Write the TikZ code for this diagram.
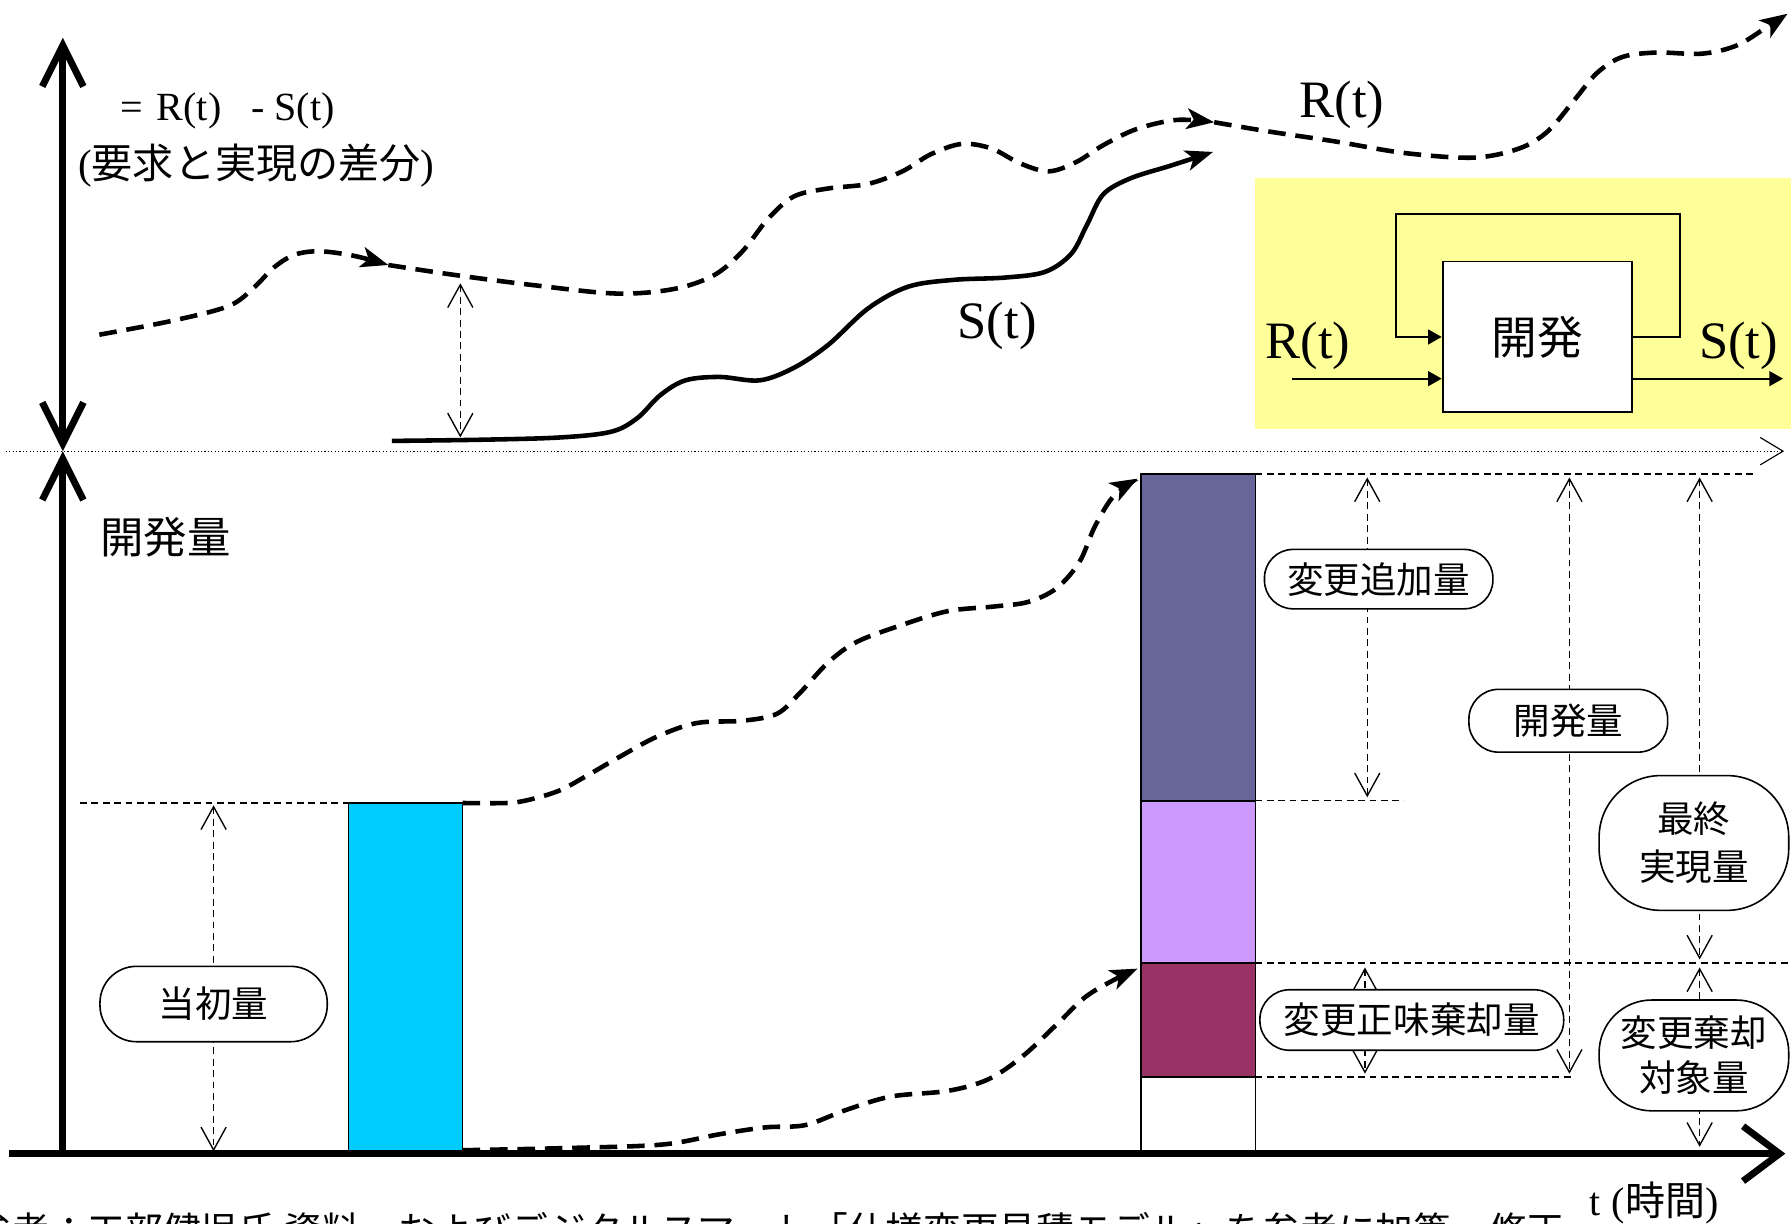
\documentclass[tikz,border=0pt]{standalone}
\usepackage{fontspec}
\setmainfont{Liberation Serif}
\newfontfamily\cjk{Noto Sans CJK JP}
\usetikzlibrary{arrows.meta}
\definecolor{ybg}{HTML}{FFFF99}
\definecolor{cyanbar}{HTML}{00CCFF}
\definecolor{slatebar}{HTML}{666699}
\definecolor{lavbar}{HTML}{CC99FF}
\definecolor{maroonbar}{HTML}{993366}
\newcommand{\setfs}[1]{\fontsize{#1pt}{#1pt}\selectfont}
\tikzset{
  axisline/.style={line width=3pt},
  bigdash/.style={line width=2pt, dash pattern=on 7.7pt off 4.3pt, -{Stealth[length=12pt,width=9pt,inset=3pt]}},
  solidcurve/.style={line width=2pt, -{Stealth[length=12pt,width=9pt,inset=3pt]}},
  thindash/.style={line width=0.6pt, dash pattern=on 3pt off 2pt},
  dimarrow/.style={thindash, {Straight Barb[length=10pt,width=11pt]}-{Straight Barb[length=10pt,width=11pt]}},
  flow/.style={line width=0.9pt, -{Triangle[length=6pt,width=6.5pt]}},
  lbl/.style={draw, line width=0.7pt, fill=white, font={\cjk\setfs{16}}, align=center, inner sep=0pt},
  barbox/.style={draw, line width=0.7pt, anchor=north west, minimum width=50pt, inner sep=0pt, outer sep=0pt},
  serifbig/.style={font={\setfs{23}}, inner sep=0pt},
}
\begin{document}
\begin{tikzpicture}[x=0.5pt,y=-0.5pt]
\useasboundingbox (0,0) rectangle (1568,1071);

% ---------- inset (yellow) ----------
\node[fill=ybg, anchor=north west, minimum width=235pt, minimum height=110pt, inner sep=0pt] (ybox) at (1098,155) {};
\node[draw, line width=0.8pt, fill=white, minimum width=83pt, minimum height=66pt, inner sep=0pt, font={\cjk\setfs{20}}] (dev) at (1346,295) {開発};
\coordinate (rin) at (1131,331.5);
\coordinate (sout) at (1561,331.5);
\coordinate (lpR) at (1471,187);
\coordinate (lpL) at (1222,187);
\draw[flow] (rin) -- (rin -| dev.west);
\draw[flow] (sout -| dev.east) -- (sout);
\draw[flow] (dev.east) -- (dev.east -| lpR) -- (lpR) -- (lpL) -- (lpL |- dev.west) -- (dev.west);
\node[serifbig] (rlabin) at (1145,303) {R(t)};
\node[serifbig] (slabin) at (1522,303) {S(t)};

% ---------- separator dotted line ----------
\coordinate (dotL) at (5,395);
\coordinate (dotR) at (1562,395);
\draw[line width=0.5pt, densely dotted, -{Straight Barb[length=10pt,width=12pt]}] (dotL) -- (dotR);

% ---------- upper texts ----------
\node[anchor=west, inner sep=0pt, font={\setfs{17.5}}] (formula) at (105,97) {=\hspace{0.35em}R(t)\hspace{0.75em}- S(t)};
\node[anchor=west, inner sep=0pt] (diff) at (68,145) {{\setfs{18}(}{\cjk\setfs{18}要求と実現の差分}{\setfs{18})}};
\node[serifbig] (rlab) at (1175,92) {R(t)};
\node[serifbig] (slab) at (873,285) {S(t)};

% ---------- R(t) curve ----------
\coordinate (r0) at (87,293);
\coordinate (r1) at (340,232);
\coordinate (r2) at (1063,107);
\coordinate (r3) at (1565,12);
\draw[bigdash] plot[smooth, tension=0.55] coordinates {(r0) (150,281) (200,268) (222,252) (240,234) (258,223) (280,220) (310,224) (r1)};
\draw[bigdash] plot[smooth, tension=0.55] coordinates {(r1) (400,241) (470,250) (540,257) (590,253) (625,241) (650,220) (672,192) (695,172) (725,165) (760,161) (790,150) (815,135) (842,126) (868,130) (893,143) (918,150) (942,142) (966,127) (995,113) (1030,105) (r2)};
\draw[bigdash] plot[smooth, tension=0.55] coordinates {(r2) (1110,115) (1170,124) (1230,134) (1290,138) (1330,130) (1355,115) (1378,88) (1398,64) (1420,50) (1450,46) (1490,47) (1520,40) (1545,25) (r3)};

% ---------- S(t) curve ----------
\coordinate (s0) at (343,386);
\coordinate (s1) at (1062,133);
\draw[solidcurve] plot[smooth, tension=0.55] coordinates {(s0) (420,385) (490,383) (535,378) (558,366) (578,346) (600,333) (630,330) (665,333) (695,322) (725,302) (760,270) (795,251) (835,245) (880,243) (915,238) (938,222) (952,196) (966,170) (990,156) (1025,145) (s1)};

% gap arrow
\coordinate (gT) at (403,248);
\coordinate (gB) at (403,383);
\draw[dimarrow] (gT) -- (gB);

% ---------- lower part ----------
\node[anchor=center, inner sep=0pt, font={\cjk\setfs{19}}] (kaihatsu) at (145,470) {開発量};

\node[barbox, fill=cyanbar, minimum height=153.5pt] (bC) at (305,703) {};
\node[barbox, fill=slatebar, minimum height=143pt] (bS) at (999,415) {};
\node[barbox, fill=lavbar, minimum height=71pt] (bL) at (999,701) {};
\node[barbox, fill=maroonbar, minimum height=50pt] (bM) at (999,843) {};
\node[barbox, fill=white, minimum height=33.5pt] (bW) at (999,943) {};

% reference dashed lines
\coordinate (hC) at (70,703);
\coordinate (hS) at (1535,415);
\coordinate (hL) at (1229,701);
\coordinate (hM) at (1568,843);
\coordinate (hW) at (1375,943);
\draw[thindash] (hC) -- (bC.north west);
\draw[thindash] (bS.north east) -- (hS);
\draw[thindash] (bL.north east) -- (hL);
\draw[thindash] (bM.north east) -- (hM);
\draw[thindash] (bW.north east) -- (hW);

% growth curves
\coordinate (a1) at (996,419);
\coordinate (b0) at (405,1007);
\coordinate (b1) at (996,848);
\draw[bigdash] plot[smooth, tension=0.55] coordinates {(bC.north east) (444,703) (464,700) (490,692) (514,679) (540,664) (575,645) (610,633) (650,631) (680,625) (700,607) (725,580) (750,562) (790,547) (830,535) (870,531) (900,527) (925,515) (945,492) (958,462) (972,438) (985,426) (a1)};
\draw[bigdash] plot[smooth, tension=0.55] coordinates {(b0) (500,1005) (580,1002) (630,993) (670,987) (705,985) (740,972) (780,960) (830,955) (865,945) (895,925) (925,897) (950,873) (975,858) (b1)};

% dimension arrows
\coordinate (d1T) at (187,705);  \coordinate (d1B) at (187,1008);
\coordinate (d2T) at (1197,418); \coordinate (d2B) at (1197,698);
\coordinate (d3T) at (1374,418); \coordinate (d3B) at (1374,940);
\coordinate (d4T) at (1488,418); \coordinate (d4B) at (1488,840);
\coordinate (d5T) at (1195,847); \coordinate (d5B) at (1195,940);
\coordinate (d6T) at (1488,847); \coordinate (d6B) at (1488,1004);
\draw[dimarrow] (d1T) -- (d1B);
\draw[dimarrow] (d2T) -- (d2B);
\draw[dimarrow] (d3T) -- (d3B);
\draw[dimarrow] (d4T) -- (d4B);
\draw[dimarrow] (d5T) -- (d5B);
\draw[dimarrow] (d6T) -- (d6B);

% labels
\node[lbl, minimum width=99.5pt, minimum height=33pt, rounded corners=16pt] (ltoshi) at (187,879) {当初量};
\node[lbl, minimum width=100pt, minimum height=26pt, rounded corners=12.5pt] (ltsuika) at (1207,507) {変更追加量};
\node[lbl, minimum width=87pt, minimum height=27.5pt, rounded corners=13pt] (lkaihatsu) at (1373,631) {開発量};
\node[lbl, minimum width=83pt, minimum height=59pt, rounded corners=27pt, font={\cjk\fontsize{16pt}{21pt}\selectfont}] (lsaishu) at (1483,738) {最終\\実現量};
\node[lbl, minimum width=133pt, minimum height=26.5pt, rounded corners=13pt] (lshomi) at (1236,893) {変更正味棄却量};
\node[lbl, minimum width=83pt, minimum height=48.5pt, rounded corners=23pt, font={\cjk\fontsize{16pt}{19.5pt}\selectfont}] (lkikyaku) at (1483,924) {変更棄却\\対象量};

% ---------- axes ----------
\coordinate (yTop) at (55,33);
\coordinate (yMid) at (55,395);
\coordinate (yBot) at (55,1010);
\coordinate (tL) at (8,1010);
\coordinate (tR) at (1563,1010);
\draw[axisline, {Straight Barb[length=18pt,width=18pt]}-{Straight Barb[length=18pt,width=18pt]}] (yMid) -- (yTop);
\draw[axisline, -{Straight Barb[length=18pt,width=18pt]}] (yBot) -- (yMid);
\draw[axisline, -{Straight Barb[length=16pt,width=24pt]}] (tL) -- (tR);

\node[anchor=base west, inner sep=0pt] (tlab) at (1391,1064) {{\setfs{17.5}t}\hspace{0.5em}{\setfs{17.5}(}{\cjk\setfs{17.5}時間}{\setfs{17.5})}};

% ---------- source line (cut off at the bottom edge, as in the reference) ----------
\node[anchor=north east, inner sep=0pt, font={\cjk\setfs{16.5}}] (src) at (1370,1061) {参考：工部健児氏 資料　およびデジタルスマート「仕様変更見積モデル」を参考に加筆　修正};
\end{tikzpicture}
\end{document}
